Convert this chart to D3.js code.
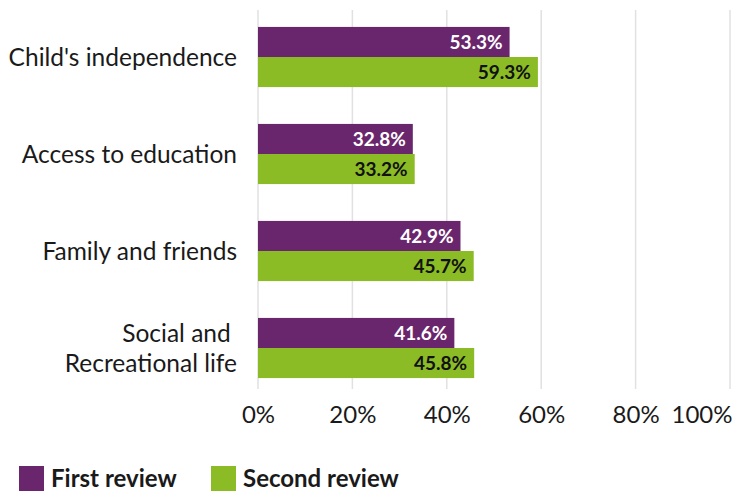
<!DOCTYPE html>
<html>
<head>
<meta charset="utf-8">
<script src="https://cdn.jsdelivr.net/npm/d3@7"></script>
<style>
  html, body { margin: 0; padding: 0; background: #ffffff; }
  svg { display: block; }
  text { font-family: Lato, "Open Sans", sans-serif; }
</style>
</head>
<body>
<svg id="chart" width="736" height="492"></svg>
<script>
// Outcome areas, one row per category
const categories = [
  ["Child's independence"],
  ["Access to education"],
  ["Family and friends"],
  ["Social and ", "Recreational life"]
];
const categoryKeys = ["independence", "education", "family", "social"];

// Share of cases showing improvement, in percent
const firstReview  = [53.3, 32.8, 42.9, 41.6];
const secondReview = [59.3, 33.2, 45.7, 45.8];

const seriesNames  = ["First review", "Second review"];
const seriesColors = ["#6a266c", "#8bbc25"];
const labelColors  = ["#ffffff", "#111111"];

const tickValues = [0, 20, 40, 60, 80, 100];

const svg = d3.select("#chart");

const x = d3.scaleLinear().domain([0, 100]).range([258, 730]);
const y = d3.scaleBand()
  .domain(categoryKeys)
  .range([8.5, 396.5])
  .paddingInner(0.38)
  .paddingOuter(0.19);
const ySub = d3.scaleBand()
  .domain(seriesNames)
  .range([0, y.bandwidth()]);

// Vertical grid lines
svg.append("g")
  .selectAll("line")
  .data(tickValues)
  .join("line")
  .attr("x1", d => x(d)).attr("x2", d => x(d))
  .attr("y1", 10).attr("y2", 389)
  .attr("stroke", "#e1e1e1")
  .attr("stroke-width", 1.5);

// x-axis tick labels (last one is kept inside the frame)
const xAxis = d3.axisBottom(x)
  .tickValues(tickValues)
  .tickFormat(d => d + "%")
  .tickSize(0)
  .tickPadding(0);
const gx = svg.append("g")
  .attr("transform", "translate(0,405)")
  .call(xAxis);
gx.select(".domain").remove();
gx.selectAll("text")
  .attr("dy", null)
  .attr("y", 18)
  .attr("font-family", "Lato, 'Open Sans', sans-serif")
  .attr("font-size", 24)
  .attr("fill", "#1a1a1a")
  .filter(d => d === 100)
  .attr("text-anchor", "end")
  .attr("x", 2);

// Bars
const rows = categoryKeys.map((k, i) => ({
  key: k,
  values: [firstReview[i], secondReview[i]]
}));

const groups = svg.append("g")
  .selectAll("g")
  .data(rows)
  .join("g")
  .attr("transform", d => `translate(0,${y(d.key)})`);

groups.selectAll("rect")
  .data(d => d.values.map((v, j) => ({ v, j })))
  .join("rect")
  .attr("x", x(0))
  .attr("y", d => ySub(seriesNames[d.j]))
  .attr("width", d => x(d.v) - x(0))
  .attr("height", ySub.bandwidth())
  .attr("fill", d => seriesColors[d.j]);

groups.selectAll("text.value")
  .data(d => d.values.map((v, j) => ({ v, j })))
  .join("text")
  .attr("class", "value")
  .attr("x", d => x(d.v) - 7)
  .attr("y", d => ySub(seriesNames[d.j]) + ySub.bandwidth() / 2)
  .attr("dy", "0.36em")
  .attr("text-anchor", "end")
  .attr("font-size", 19)
  .attr("font-weight", 700)
  .attr("fill", d => labelColors[d.j])
  .text(d => d.v.toFixed(1) + "%");

// Category labels
const catLabels = svg.append("g")
  .selectAll("text")
  .data(categoryKeys.map((k, i) => ({ key: k, lines: categories[i] })))
  .join("text")
  .attr("text-anchor", "end")
  .attr("font-size", 24.5)
  .attr("fill", "#1a1a1a")
  .attr("transform", d => `translate(237,${y(d.key) + y.bandwidth() / 2})`);

catLabels.selectAll("tspan")
  .data(d => d.lines.map((t, i) => ({ t, i, n: d.lines.length })))
  .join("tspan")
  .attr("x", 0)
  .attr("y", d => (d.i - (d.n - 1) / 2) * 30)
  .attr("dy", "0.36em")
  .attr("xml:space", "preserve")
  .style("white-space", "pre")
  .text(d => d.t);

// Legend
const legend = svg.append("g")
  .selectAll("g")
  .data(seriesNames)
  .join("g")
  .attr("transform", (d, i) => `translate(${[19, 211][i]},466)`);
legend.append("rect")
  .attr("width", 25).attr("height", 25)
  .attr("fill", (d, i) => seriesColors[i]);
legend.append("text")
  .attr("x", 32)
  .attr("y", 21)
  .attr("font-size", 24)
  .attr("font-weight", 700)
  .attr("fill", "#1a1a1a")
  .text(d => d);
</script>
</body>
</html>
